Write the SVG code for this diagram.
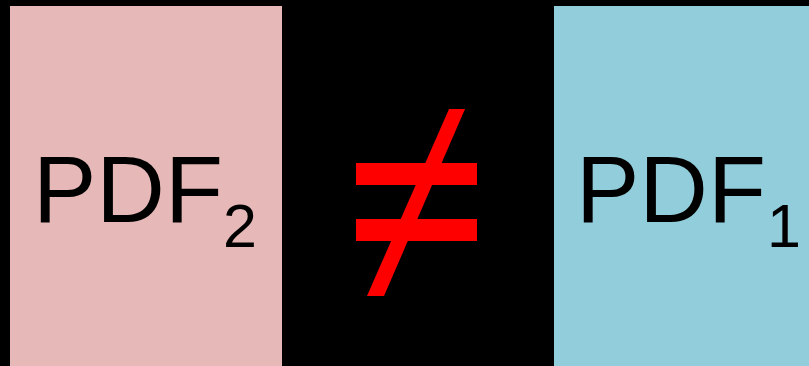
<svg xmlns="http://www.w3.org/2000/svg" width="809" height="366" viewBox="0 0 809 366">
<style>
.lbl{font-family:"Liberation Sans",Arial,sans-serif;fill:#000}
.big{font-size:95px}
.sub{font-size:61px}
.neq{fill:#FF0000}
</style>
<rect x="0" y="0" width="809" height="366" fill="#000"/>
<g id="pdf2">
<rect x="10" y="6" width="272" height="360" fill="#E6B8B7"/>
<text class="lbl big" x="33" y="222">PDF</text>
<text class="lbl sub" x="223" y="247">2</text>
</g>
<g id="neq">
<rect class="neq" x="356" y="163" width="121" height="22"/>
<rect class="neq" x="356" y="219" width="121" height="22"/>
<polygon class="neq" points="449,109 465,109 384,296 367,296"/>
</g>
<g id="pdf1">
<rect x="554" y="6" width="255" height="360" fill="#92CDDC"/>
<text class="lbl big" x="576" y="222">PDF</text>
<text class="lbl sub" x="767" y="247">1</text>
</g>
<g id="connectors"/>
</svg>
